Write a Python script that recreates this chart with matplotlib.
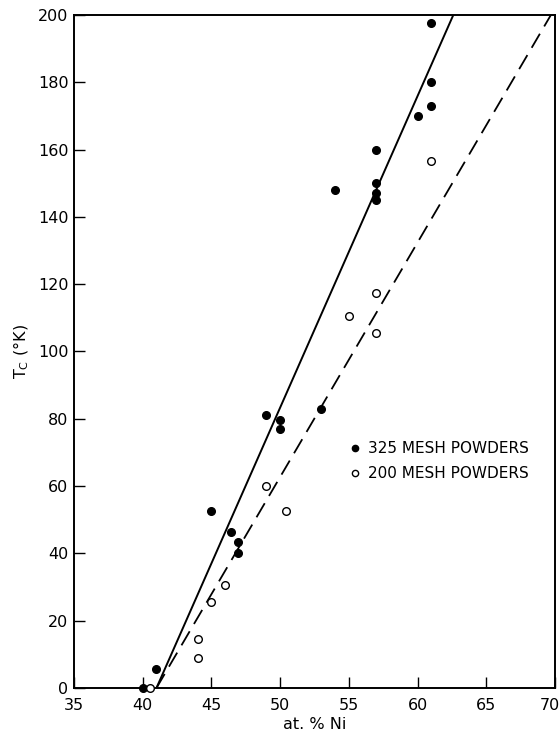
import matplotlib
matplotlib.use("Agg")
import matplotlib.pyplot as plt
import matplotlib.transforms as mtransforms
from matplotlib.lines import Line2D

# 325 mesh powders (filled)
x325 = [40, 41, 45, 46.4, 46.9, 46.9, 49, 50, 50, 53, 54, 57, 57, 57, 57, 60, 61, 61, 61]
y325 = [0, 5.5, 52.5, 46.5, 43.5, 40, 81, 79.5, 77, 83, 148, 160, 150, 147, 145, 170, 173, 180, 197.5]

# 200 mesh powders (open)
x200 = [40.5, 44, 44, 45, 46, 49, 50.4, 55, 57, 57, 61]
y200 = [0, 9, 14.5, 25.5, 30.5, 60, 52.5, 110.5, 117.5, 105.5, 156.5]

# fitted lines (endpoints)
fit325_x = [41.0, 62.6]
fit325_y = [0, 200]
fit200_x = [41.0, 69.7]
fit200_y = [0, 200]

xticks = [35, 40, 45, 50, 55, 60, 65, 70]
yticks = [0, 20, 40, 60, 80, 100, 120, 140, 160, 180, 200]

plt.rcParams['font.family'] = ['DejaVu Sans']
fig = plt.figure(figsize=(5.6, 7.4), dpi=100)
ax = fig.add_axes([74/560, 52/740, 481/560, 673/740])

ax.plot(fit325_x, fit325_y, color='black', lw=1.4, solid_capstyle='butt')
ax.plot(fit200_x, fit200_y, color='black', lw=1.3, dashes=(9, 4.7))

ax.plot(x325, y325, 'o', color='black', ms=5.5, mec='black', clip_on=False, zorder=5)
ax.plot(x200, y200, 'o', mfc='white', mec='black', mew=1.0, ms=5.5, clip_on=False, zorder=5)

ax.set_xlim(35, 70)
ax.set_ylim(0, 200)
ax.set_xticks(xticks)
ax.set_yticks(yticks)
ax.tick_params(direction='in', length=8, width=1, labelsize=11.5)
ax.tick_params(axis='x', pad=7)
ax.tick_params(axis='y', pad=4)
for s in ax.spines.values():
    s.set_linewidth(1.4)

last = ax.get_xticklabels()[-1]
last.set_transform(last.get_transform() + mtransforms.ScaledTranslation(-5/100, 0, fig.dpi_scale_trans))

ax.set_xlabel('at. % Ni', fontsize=11.5, labelpad=3)
ax.set_ylabel(r'T$_\mathrm{C}$ ($\degree$K)', fontsize=11.5, labelpad=5)

handles = [
    Line2D([], [], marker='o', ls='none', color='black', ms=4.5),
    Line2D([], [], marker='o', ls='none', mfc='white', mec='black', mew=1.0, ms=4.5),
]
ax.legend(handles, ['325 MESH POWDERS', '200 MESH POWDERS'], frameon=False,
          loc='center left', bbox_to_anchor=(0.555, 0.337), fontsize=11,
          handlelength=1.0, handletextpad=0.35, labelspacing=0.65, borderaxespad=0)

fig.savefig('out.png', dpi=100)
